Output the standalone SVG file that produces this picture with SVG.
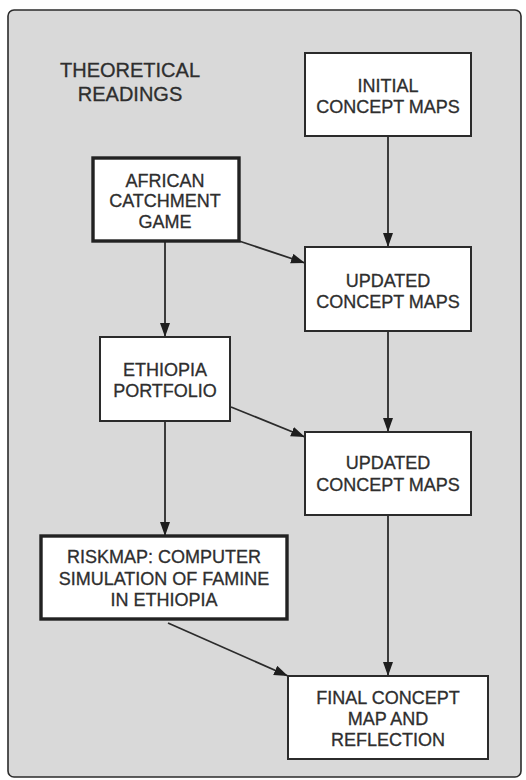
<svg xmlns="http://www.w3.org/2000/svg" width="526" height="780" viewBox="0 0 526 780">
<defs>
<style>
.panel{fill:#d9d9d9;stroke:#2b2b2b;stroke-width:1.6}
.box{fill:#fff;stroke:#2b2b2b;stroke-width:2}
.thick{fill:#fff;stroke:#222;stroke-width:3.4}
.lbl{font-family:"Liberation Sans",Arial,Helvetica,sans-serif;font-size:18px;fill:#2e2e2e;stroke:#2e2e2e;stroke-width:0.3;text-anchor:middle}
.title{font-family:"Liberation Sans",Arial,Helvetica,sans-serif;font-size:20px;fill:#2e2e2e;stroke:#2e2e2e;stroke-width:0.3;text-anchor:middle}
.conn{fill:none;stroke:#2b2b2b;stroke-width:1.8;marker-end:url(#arr)}
</style>
<marker id="arr" markerUnits="userSpaceOnUse" markerWidth="15" markerHeight="11" refX="14" refY="5" orient="auto">
<path d="M0,0 L14,5 L0,10 z" fill="#1e1e1e"/>
</marker>
</defs>
<rect class="panel" x="8" y="10" width="513" height="767" rx="6" ry="6"/>
<g id="theoretical-readings">
<text class="title" x="130" y="77">THEORETICAL</text>
<text class="title" x="130" y="101">READINGS</text>
</g>
<g id="connectors">
<path class="conn" d="M388,136 L388,247"/>
<path class="conn" d="M239,241 L305,263"/>
<path class="conn" d="M165,242 L165,337"/>
<path class="conn" d="M388,331 L388,432"/>
<path class="conn" d="M231,407 L305,437"/>
<path class="conn" d="M165,421 L165,536"/>
<path class="conn" d="M168,623 L288,676"/>
<path class="conn" d="M388,515 L388,676"/>
</g>
<g id="initial-concept-maps">
<rect class="box" x="305" y="53" width="166" height="83"/>
<text class="lbl" x="388" y="92">INITIAL</text>
<text class="lbl" x="388" y="113">CONCEPT MAPS</text>
</g>
<g id="african-catchment-game">
<rect class="thick" x="93" y="158" width="146" height="83"/>
<text class="lbl" x="165" y="187">AFRICAN</text>
<text class="lbl" x="165" y="207">CATCHMENT</text>
<text class="lbl" x="165" y="228">GAME</text>
</g>
<g id="updated-concept-maps-1">
<rect class="box" x="305" y="247" width="166" height="84"/>
<text class="lbl" x="388" y="287">UPDATED</text>
<text class="lbl" x="388" y="308">CONCEPT MAPS</text>
</g>
<g id="ethiopia-portfolio">
<rect class="box" x="100" y="337" width="130" height="84"/>
<text class="lbl" x="165" y="376">ETHIOPIA</text>
<text class="lbl" x="165" y="397">PORTFOLIO</text>
</g>
<g id="updated-concept-maps-2">
<rect class="box" x="305" y="432" width="166" height="83"/>
<text class="lbl" x="388" y="469">UPDATED</text>
<text class="lbl" x="388" y="491">CONCEPT MAPS</text>
</g>
<g id="riskmap">
<rect class="thick" x="41" y="536" width="246" height="83"/>
<text class="lbl" x="164" y="563">RISKMAP: COMPUTER</text>
<text class="lbl" x="164" y="585">SIMULATION OF FAMINE</text>
<text class="lbl" x="164" y="606">IN ETHIOPIA</text>
</g>
<g id="final-concept-map">
<rect class="box" x="288" y="676" width="200" height="83"/>
<text class="lbl" x="388" y="704">FINAL CONCEPT</text>
<text class="lbl" x="388" y="725">MAP AND</text>
<text class="lbl" x="388" y="746">REFLECTION</text>
</g>
</svg>
